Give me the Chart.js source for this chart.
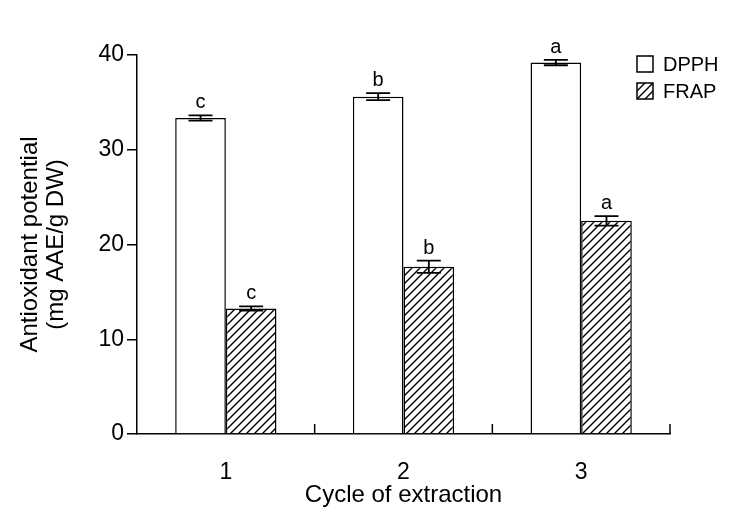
<!DOCTYPE html>
<html>
<head>
<meta charset="utf-8">
<script src="https://cdn.jsdelivr.net/npm/chart.js@4.4.0/dist/chart.umd.min.js"></script>
<style>
  html, body { margin: 0; padding: 0; background: #fff; }
  #wrap { width: 746px; height: 524px; }
</style>
</head>
<body>
<div id="wrap"><canvas id="chart" width="746" height="524"></canvas></div>
<script>
const cycles = ['1', '2', '3'];
const dpph = [33.35, 35.6, 39.2];
const frap = [13.25, 17.65, 22.5];
const dpphErr = [0.28, 0.37, 0.28];
const frapErr = [0.22, 0.65, 0.5];
const dpphLetters = ['c', 'b', 'a'];
const frapLetters = ['c', 'b', 'a'];
const yTicks = [0, 10, 20, 30, 40];

const FONT = "'Liberation Sans', Arial, sans-serif";

function hatchPattern() {
  const c = document.createElement('canvas');
  c.width = 8; c.height = 8;
  const g = c.getContext('2d');
  g.fillStyle = '#fff';
  g.fillRect(0, 0, 8, 8);
  g.strokeStyle = '#000';
  g.lineWidth = 1.4;
  g.beginPath();
  g.moveTo(-1, 9); g.lineTo(9, -1);
  g.moveTo(-5, 5); g.lineTo(5, -5);
  g.moveTo(3, 13); g.lineTo(13, 3);
  g.stroke();
  return g.createPattern(c, 'repeat');
}
const hatch = hatchPattern();

const errorBars = {
  id: 'errorBars',
  afterDatasetsDraw(chart) {
    const ctx = chart.ctx;
    const y = chart.scales.y;
    chart.data.datasets.forEach((ds, di) => {
      const meta = chart.getDatasetMeta(di);
      meta.data.forEach((bar, i) => {
        const v = ds.data[i], e = ds.err[i];
        const yt = y.getPixelForValue(v + e);
        const yb = y.getPixelForValue(v - e);
        const x = bar.x;
        ctx.save();
        ctx.strokeStyle = '#000';
        ctx.lineWidth = 1.8;
        ctx.beginPath();
        ctx.moveTo(x, yt); ctx.lineTo(x, yb);
        ctx.moveTo(x - 12, yt); ctx.lineTo(x + 12, yt);
        ctx.moveTo(x - 12, yb); ctx.lineTo(x + 12, yb);
        ctx.stroke();
        ctx.fillStyle = '#000';
        ctx.font = '20px ' + FONT;
        ctx.textAlign = 'center';
        ctx.textBaseline = 'alphabetic';
        ctx.fillText(ds.letters[i], x, yt - 7);
        ctx.restore();
      });
    });
  }
};

const axisTicks = {
  id: 'axisTicks',
  afterDraw(chart) {
    const ctx = chart.ctx;
    const x = chart.scales.x;
    const area = chart.chartArea;
    ctx.save();
    ctx.strokeStyle = '#000';
    ctx.lineWidth = 1.5;
    ctx.beginPath();
    for (let i = 0; i < cycles.length; i++) {
      const px = i < cycles.length - 1
        ? (x.getPixelForTick(i) + x.getPixelForTick(i + 1)) / 2
        : area.right;
      ctx.moveTo(px, area.bottom);
      ctx.lineTo(px, area.bottom - 10);
    }
    ctx.stroke();
    ctx.restore();
  }
};

const legendBox = {
  id: 'legendBox',
  afterDraw(chart) {
    const ctx = chart.ctx;
    ctx.save();
    chart.data.datasets.forEach((ds, i) => {
      const bx = 637, by = 56 + i * 27;
      ctx.fillStyle = ds.backgroundColor;
      ctx.fillRect(bx, by, 16, 16);
      ctx.strokeStyle = '#000';
      ctx.lineWidth = 1.5;
      ctx.strokeRect(bx, by, 16, 16);
      ctx.fillStyle = '#000';
      ctx.font = '20px ' + FONT;
      ctx.textAlign = 'left';
      ctx.textBaseline = 'middle';
      ctx.fillText(ds.label, bx + 26, by + 9);
    });
    ctx.restore();
  }
};

new Chart(document.getElementById('chart'), {
  type: 'bar',
  data: {
    labels: cycles,
    datasets: [
      { label: 'DPPH', data: dpph, err: dpphErr, letters: dpphLetters,
        backgroundColor: '#ffffff', borderColor: '#000', borderWidth: 1.5 },
      { label: 'FRAP', data: frap, err: frapErr, letters: frapLetters,
        backgroundColor: hatch, borderColor: '#000', borderWidth: 1.5 }
    ]
  },
  options: {
    responsive: false,
    animation: false,
    layout: { padding: { top: 55, right: 76, left: 0, bottom: 0 } },
    datasets: { bar: { categoryPercentage: 0.57, barPercentage: 1.0 } },
    plugins: { legend: { display: false }, tooltip: { enabled: false } },
    scales: {
      x: {
        grid: { display: false, drawTicks: false },
        border: { color: '#000', width: 1.5 },
        ticks: { color: '#000', font: { family: FONT, size: 23 }, padding: 25 },
        title: { display: true, text: 'Cycle of extraction', color: '#000',
                 font: { family: FONT, size: 24 }, padding: { top: 0, bottom: 14 } },
        afterFit(s) { s.height = 90; }
      },
      y: {
        min: 0, max: 40,
        afterBuildTicks(s) { s.ticks = yTicks.map(v => ({ value: v })); },
        grid: { drawOnChartArea: false, tickLength: 10, color: '#000', lineWidth: 1.5 },
        border: { color: '#000', width: 1.5 },
        ticks: { color: '#000', font: { family: FONT, size: 23 }, padding: 3 },
        title: { display: true, text: ['Antioxidant potential', '(mg AAE/g DW)'], color: '#000',
                 font: { family: FONT, size: 24, lineHeight: 1.1 }, padding: { top: 17, bottom: 0 } },
        afterFit(s) { s.width = 137; }
      }
    }
  },
  plugins: [errorBars, axisTicks, legendBox]
});
</script>
</body>
</html>
